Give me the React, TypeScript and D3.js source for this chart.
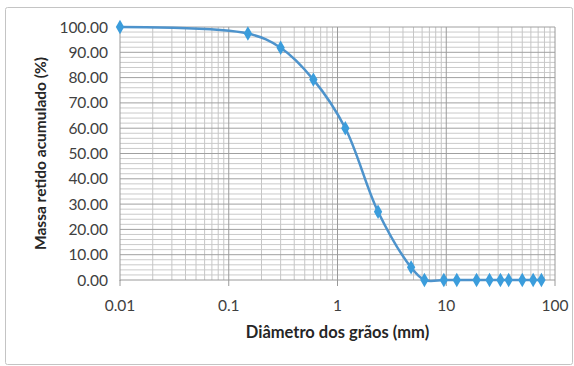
import React from 'react';
import * as d3 from 'd3';

// peneiras (mm) e massa retida acumulada (%)
const diameters = [0.01, 0.15, 0.3, 0.6, 1.18, 2.36, 4.75, 6.3, 9.5, 12.5, 19, 25, 31.5, 37.5, 50, 63, 75];
const retained = [100, 97.4, 91.8, 79.2, 60.0, 27.0, 5.0, 0, 0, 0, 0, 0, 0, 0, 0, 0, 0];
const xTicks = [0.01, 0.1, 1, 10, 100];
const yTicks = [0, 10, 20, 30, 40, 50, 60, 70, 80, 90, 100];

const W = 574;
const H = 366;
const margin = { top: 27, right: 19, bottom: 86, left: 120 };

const App = () => {
  const x = d3.scaleLog()
    .domain([0.01, 100])
    .range([margin.left, W - margin.right]);

  const y = d3.scaleLinear()
    .domain([0, 100])
    .range([H - margin.bottom, margin.top]);

  // minor grid: 2..9 of each decade, every 2% on y
  const minorX: number[] = [];
  for (let e = -2; e < 2; e++) {
    for (let k = 2; k <= 9; k++) minorX.push(k * Math.pow(10, e));
  }
  const minorY = d3.range(0, 101, 2).filter(v => v % 10 !== 0);

  const pts = diameters.map((d, i) => [d, retained[i]] as [number, number]);
  const line = d3.line<[number, number]>()
    .x(d => x(d[0]))
    .y(d => y(d[1]))
    .curve(d3.curveCatmullRom.alpha(0.5));

  const diamond = d3.symbol().type(d3.symbolDiamond).size(60)();

  const font = 'Lato, "Open Sans", sans-serif';
  const x0 = x.range()[0], x1 = x.range()[1];
  const y0 = y.range()[0], y1 = y.range()[1];

  return (
    <svg width={W} height={H} style={{ position: 'absolute', left: 0, top: 0 }}>
      <rect x={0} y={0} width={W} height={H} fill="#fff" />
      <rect x={5.5} y={7.5} width={567} height={357} rx={2} fill="#fff" stroke="#c4c4c4" />

      <g>
        {minorY.map(v => (
          <line key={'my' + v} x1={x0} x2={x1} y1={y(v)} y2={y(v)} stroke="#cacaca" strokeWidth={1} />
        ))}
        {minorX.map(v => (
          <line key={'mx' + v} x1={x(v)} x2={x(v)} y1={y0} y2={y1} stroke="#c6c6c6" strokeWidth={1} />
        ))}
        {yTicks.filter(v => v > 0).map(v => (
          <line key={'gy' + v} x1={x0} x2={x1} y1={y(v)} y2={y(v)} stroke="#a0a0a0" strokeWidth={1} />
        ))}
        {xTicks.filter(v => v > 0.01).map(v => (
          <line key={'gx' + v} x1={x(v)} x2={x(v)} y1={y0} y2={y1} stroke="#9a9a9a" strokeWidth={1} />
        ))}
      </g>

      {/* axes */}
      <line x1={x0} x2={x0} y1={y1} y2={y0 + 1} stroke="#9a9a9a" />
      <line x1={x0} x2={x1} y1={y0} y2={y0} stroke="#9a9a9a" />
      {xTicks.map(v => (
        <line key={'tx' + v} x1={x(v)} x2={x(v)} y1={y0} y2={y0 + 6} stroke="#9a9a9a" />
      ))}

      <path d={line(pts) || ''} fill="none" stroke="#4d93cc" strokeWidth={2.5} />
      {pts.map((p, i) => (
        <path key={i} d={diamond || ''} transform={`translate(${x(p[0])},${y(p[1])})`} fill="#3b9ddc" />
      ))}

      <g fontFamily={font} fontSize={15.5} fill="#404040">
        {yTicks.map(v => (
          <text key={'ly' + v} x={x0 - 12} y={y(v)} dy="0.36em" textAnchor="end">{v.toFixed(2)}</text>
        ))}
        {xTicks.map(v => (
          <text key={'lx' + v} x={x(v)} y={y0 + 31} textAnchor="middle">{String(v)}</text>
        ))}
      </g>

      <text x={(x0 + x1) / 2} y={338} textAnchor="middle" fontFamily={font} fontWeight="bold" fontSize={16.5} fill="#262626">
        Diâmetro dos grãos (mm)
      </text>
      <text transform={`translate(46,${(y0 + y1) / 2}) rotate(-90)`} textAnchor="middle" fontFamily={font} fontWeight="bold" fontSize={15.5} fill="#262626">
        Massa retido acumulado  (%)
      </text>
    </svg>
  );
};

export default App;
